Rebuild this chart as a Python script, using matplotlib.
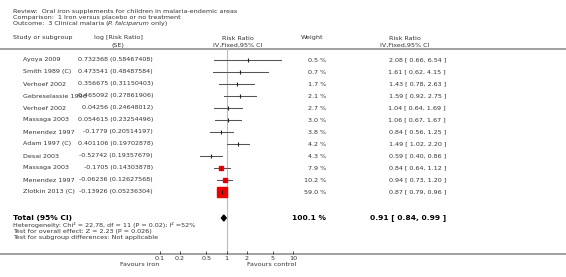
import matplotlib
matplotlib.use("Agg")
import matplotlib.pyplot as plt
import numpy as np
from matplotlib.offsetbox import TextArea, HPacker, AnnotationBbox

# ---- data ----
studies = ["Ayoya 2009", "Smith 1989 (C)", "Verhoef 2002", "Gebreselassie 1996",
           "Verhoef 2002", "Massaga 2003", "Menendez 1997", "Adam 1997 (C)",
           "Desai 2003", "Massaga 2003", "Menendez 1997", "Zlotkin 2013 (C)"]
log_rr = ["0.732368", "0.473541", "0.356675", "0.465092", "0.04256", "0.054615",
          "-0.1779", "0.401106", "-0.52742", "-0.1705", "-0.06236", "-0.13926"]
se = ["0.58467408", "0.48487584", "0.31150403", "0.27861906", "0.24648012",
      "0.23254496", "0.20514197", "0.19702878", "0.19357679", "0.14303878",
      "0.12627568", "0.05236304"]
weights = [0.5, 0.7, 1.7, 2.1, 2.7, 3.0, 3.8, 4.2, 4.3, 7.9, 10.2, 59.0]
rr = [2.08, 1.61, 1.43, 1.59, 1.04, 1.06, 0.84, 1.49, 0.59, 0.84, 0.94, 0.87]
lo = [0.66, 0.62, 0.78, 0.92, 0.64, 0.67, 0.56, 1.02, 0.40, 0.64, 0.73, 0.79]
hi = [6.54, 4.15, 2.63, 2.75, 1.69, 1.67, 1.25, 2.20, 0.86, 1.12, 1.20, 0.96]
total = (0.91, 0.84, 0.99)
tick_vals = [0.1, 0.2, 0.5, 1, 2, 5, 10]
tick_labels = ["0.1", "0.2", "0.5", "1", "2", "5", "10"]

W, H = 566, 277
plt.rcParams['font.family'] = ['DejaVu Sans']
fig = plt.figure(figsize=(W / 100, H / 100), dpi=100)

ax0 = fig.add_axes([0, 0, 1, 1])
ax0.set_xlim(0, W)
ax0.set_ylim(H, 0)
ax0.axis("off")

tc = "#333333"
fs = 4.6

# header
ax0.text(13, 12, "Review:  Oral iron supplements for children in malaria-endemic areas", fontsize=fs, color=tc, va="center")
ax0.text(13, 18, "Comparison:  1 Iron versus placebo or no treatment", fontsize=fs, color=tc, va="center")
parts = [TextArea("Outcome:  3 Clinical malaria (", textprops=dict(fontsize=fs, color=tc)),
         TextArea("P. falciparum", textprops=dict(fontsize=fs, color=tc, style="italic")),
         TextArea(" only)", textprops=dict(fontsize=fs, color=tc))]
box = HPacker(children=parts, align="baseline", pad=0, sep=0)
ab = AnnotationBbox(box, (13, 24), xycoords="data", box_alignment=(0, 0.5), frameon=False, pad=0)
ax0.add_artist(ab)

ax0.text(13, 38, "Study or subgroup", fontsize=fs, color=tc, va="center")
ax0.text(118, 38, "log [Risk Ratio]", fontsize=fs, color=tc, va="center", ha="center")
ax0.text(118, 45, "(SE)", fontsize=fs, color=tc, va="center", ha="center")
ax0.text(238, 38, "Risk Ratio", fontsize=fs, color=tc, va="center", ha="center")
ax0.text(238, 45, "IV,Fixed,95% CI", fontsize=fs, color=tc, va="center", ha="center")
ax0.text(312, 38, "Weight", fontsize=fs, color=tc, va="center", ha="center")
ax0.text(405, 38, "Risk Ratio", fontsize=fs, color=tc, va="center", ha="center")
ax0.text(405, 45, "IV,Fixed,95% CI", fontsize=fs, color=tc, va="center", ha="center")

ax0.plot([0, W], [49, 49], color="#999999", lw=1.3, solid_capstyle="butt")
ax0.plot([0, W], [254, 254], color="#999999", lw=1.3, solid_capstyle="butt")

row0, step = 60, 12
rows = [row0 + step * i for i in range(len(studies))]
for i, y in enumerate(rows):
    ax0.text(23, y, studies[i], fontsize=fs, color=tc, va="center")
    ax0.text(153, y, f"{log_rr[i]} ({se[i]})", fontsize=fs, color=tc, va="center", ha="right")
    ax0.text(326, y, f"{weights[i]:.1f} %", fontsize=fs, color=tc, va="center", ha="right")
    ax0.text(446, y, f"{rr[i]:.2f} [ {lo[i]:.2f}, {hi[i]:.2f} ]", fontsize=fs, color=tc, va="center", ha="right")

ty = 218
ax0.text(13, ty, "Total (95% CI)", fontsize=5.4, color="black", va="center", weight="bold")
ax0.text(326, ty, f"{sum(weights):.1f} %", fontsize=5.4, color="black", va="center", ha="right", weight="bold")
ax0.text(446, ty, f"{total[0]:.2f} [ {total[1]:.2f}, {total[2]:.2f} ]", fontsize=5.4, color="black",
         va="center", ha="right", weight="bold")
ax0.text(13, 224.5, "Heterogeneity: Chi² = 22.78, df = 11 (P = 0.02); I² =52%", fontsize=fs, color=tc, va="center")
ax0.text(13, 231.2, "Test for overall effect: Z = 2.23 (P = 0.026)", fontsize=fs, color=tc, va="center")
ax0.text(13, 238, "Test for subgroup differences: Not applicable", fontsize=fs, color=tc, va="center")
ax0.text(140, 265, "Favours iron", fontsize=fs, color=tc, va="center", ha="center")
ax0.text(272, 265, "Favours control", fontsize=fs, color=tc, va="center", ha="center")

# forest axes: 0.1 -> px 160, 10 -> px 293; y pixel rows 49..254
x0, x1 = 160, 293
ax = fig.add_axes([x0 / W, (H - 254) / H, (x1 - x0) / W, (254 - 49) / H])
ax.set_xscale("log")
ax.set_xlim(0.1, 10)
ax.set_ylim(254, 49)
ax.patch.set_alpha(0)
for s in ax.spines.values():
    s.set_visible(False)
ax.set_yticks([])
ax.set_xticks(tick_vals)
ax.set_xticklabels(tick_labels)
ax.minorticks_off()
ax.tick_params(axis="x", direction="in", length=2.5, width=0.6, pad=1.5, labelsize=fs, colors=tc)

ax.axvline(1, color="#bbbbbb", lw=0.8, zorder=1)
for i, y in enumerate(rows):
    ax.plot([lo[i], hi[i]], [y, y], color="#555555", lw=0.75, zorder=2)
    ms = 7.4 * np.sqrt(weights[i] / 59.0)
    if ms > 2.2:
        ax.plot([rr[i]], [y], marker="s", ms=ms, color="#ee0000", mec="#ee0000", zorder=3, ls="none")
    ax.plot([rr[i]], [y], marker="|", ms=3.2, mew=0.8, color="#222222", zorder=4, ls="none")

dh = 3
ax.fill([total[1], total[0], total[2], total[0]], [ty, ty - dh, ty, ty + dh], color="black", zorder=4)

fig.savefig("out.png", dpi=100)
